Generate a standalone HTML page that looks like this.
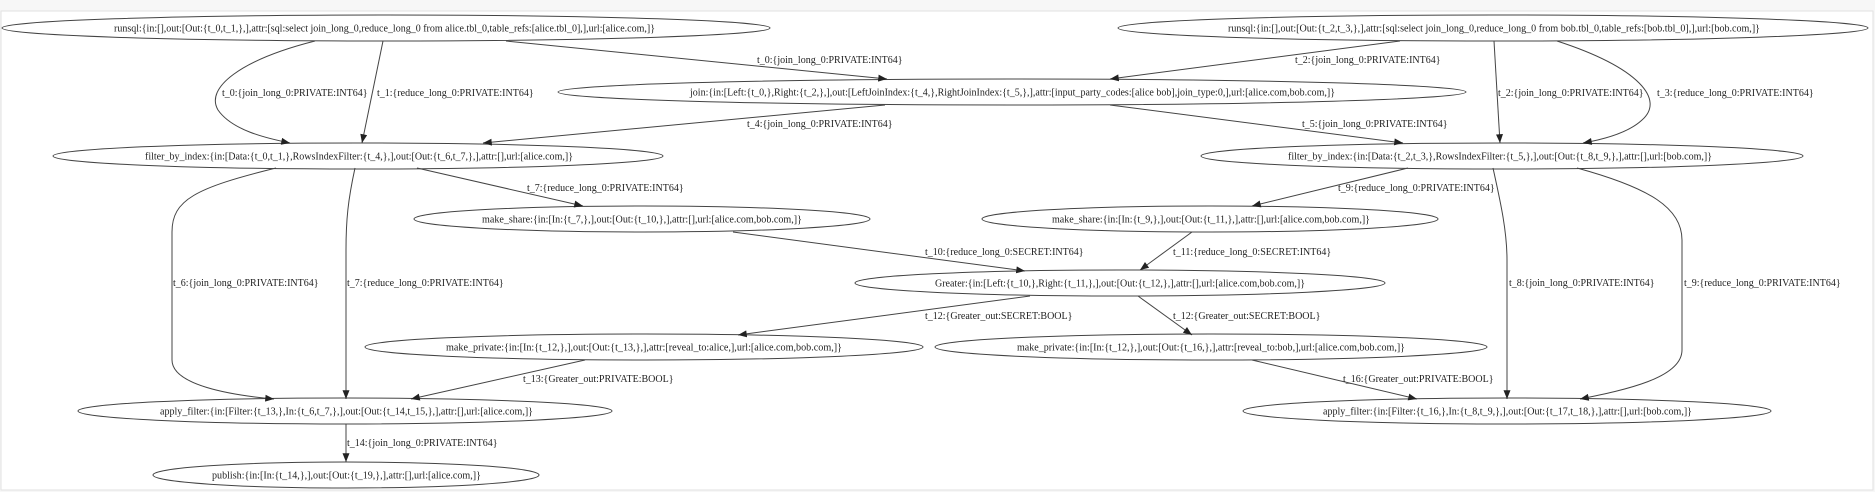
<!DOCTYPE html>
<html><head><meta charset="utf-8"><style>
html,body{margin:0;padding:0;background:#f7f7f7;}
svg{display:block;}
text{font-family:"Liberation Serif",serif;font-size:10px;fill:#222;}
</style></head><body>
<svg width="1875" height="492" viewBox="0 0 1875 492" xmlns="http://www.w3.org/2000/svg">
<defs>
<marker id="a" viewBox="0 0 10 8" refX="10" refY="4" markerWidth="9" markerHeight="7" markerUnits="userSpaceOnUse" orient="auto">
<path d="M0,0 L10,4 L0,8 z" fill="#222"/>
</marker>
</defs>
<rect x="1" y="11" width="1872" height="479" fill="#fff" stroke="#e2e2e2"/>
<g fill="none" stroke="#444" stroke-width="1">
<ellipse cx="386" cy="28" rx="384" ry="13"/>
<ellipse cx="1493" cy="28" rx="375" ry="13"/>
<ellipse cx="1012" cy="92" rx="454" ry="13"/>
<ellipse cx="358" cy="156" rx="305" ry="13"/>
<ellipse cx="1502" cy="156" rx="301" ry="13"/>
<ellipse cx="642" cy="219" rx="228" ry="13"/>
<ellipse cx="1210" cy="219" rx="228" ry="13"/>
<ellipse cx="1120" cy="283" rx="265" ry="13"/>
<ellipse cx="644" cy="347" rx="279" ry="13"/>
<ellipse cx="1211" cy="347" rx="276" ry="13"/>
<ellipse cx="345" cy="411" rx="267" ry="13"/>
<ellipse cx="1507" cy="411" rx="264" ry="13"/>
<ellipse cx="346" cy="475" rx="193" ry="13"/>
</g>
<g fill="none" stroke="#444" stroke-width="1" marker-end="url(#a)">
<path d="M315,41 C240,60 205,88 218,110 C232,130 265,138 290,143"/>
<path d="M383,41 L362,143"/>
<path d="M506,41 L887,79"/>
<path d="M1400,41 L1110,79"/>
<path d="M1494,41 L1500,143"/>
<path d="M1557,41 C1640,68 1665,100 1642,120 C1627,134 1600,140 1583,143"/>
<path d="M885,105 L483,143"/>
<path d="M1110,105 L1403,143"/>
<path d="M417,168 L583,206"/>
<path d="M276,168 C195,188 172,200 172,232 L172,360 C172,385 230,395 274,399"/>
<path d="M355,168 C348,200 346,220 346,250 L346,399"/>
<path d="M1408,168 L1252,206"/>
<path d="M1493,168 C1500,200 1507,230 1507,260 L1507,399"/>
<path d="M1577,168 C1650,188 1682,208 1682,240 L1682,350 C1682,378 1625,390 1580,399"/>
<path d="M733,232 L1025,271"/>
<path d="M1192,232 L1140,270"/>
<path d="M1030,296 L738,335"/>
<path d="M1138,296 L1192,335"/>
<path d="M585,360 L411,399"/>
<path d="M1252,360 L1417,399"/>
<path d="M346,424 L346,462"/>
</g>
<g>
<text x="114" y="31.5" textLength="541" lengthAdjust="spacingAndGlyphs">runsql:{in:[],out:[Out:{t_0,t_1,},],attr:[sql:select join_long_0,reduce_long_0 from alice.tbl_0,table_refs:[alice.tbl_0],],url:[alice.com,]}</text>
<text x="1228" y="31.5" textLength="532" lengthAdjust="spacingAndGlyphs">runsql:{in:[],out:[Out:{t_2,t_3,},],attr:[sql:select join_long_0,reduce_long_0 from bob.tbl_0,table_refs:[bob.tbl_0],],url:[bob.com,]}</text>
<text x="690" y="95.5" textLength="645" lengthAdjust="spacingAndGlyphs">join:{in:[Left:{t_0,},Right:{t_2,},],out:[LeftJoinIndex:{t_4,},RightJoinIndex:{t_5,},],attr:[input_party_codes:[alice bob],join_type:0,],url:[alice.com,bob.com,]}</text>
<text x="145" y="159.5" textLength="428" lengthAdjust="spacingAndGlyphs">filter_by_index:{in:[Data:{t_0,t_1,},RowsIndexFilter:{t_4,},],out:[Out:{t_6,t_7,},],attr:[],url:[alice.com,]}</text>
<text x="1288" y="159.5" textLength="424" lengthAdjust="spacingAndGlyphs">filter_by_index:{in:[Data:{t_2,t_3,},RowsIndexFilter:{t_5,},],out:[Out:{t_8,t_9,},],attr:[],url:[bob.com,]}</text>
<text x="482" y="222.5" textLength="320" lengthAdjust="spacingAndGlyphs">make_share:{in:[In:{t_7,},],out:[Out:{t_10,},],attr:[],url:[alice.com,bob.com,]}</text>
<text x="1052" y="222.5" textLength="318" lengthAdjust="spacingAndGlyphs">make_share:{in:[In:{t_9,},],out:[Out:{t_11,},],attr:[],url:[alice.com,bob.com,]}</text>
<text x="935" y="286.5" textLength="370" lengthAdjust="spacingAndGlyphs">Greater:{in:[Left:{t_10,},Right:{t_11,},],out:[Out:{t_12,},],attr:[],url:[alice.com,bob.com,]}</text>
<text x="446" y="350.5" textLength="396" lengthAdjust="spacingAndGlyphs">make_private:{in:[In:{t_12,},],out:[Out:{t_13,},],attr:[reveal_to:alice,],url:[alice.com,bob.com,]}</text>
<text x="1017" y="350.5" textLength="388" lengthAdjust="spacingAndGlyphs">make_private:{in:[In:{t_12,},],out:[Out:{t_16,},],attr:[reveal_to:bob,],url:[alice.com,bob.com,]}</text>
<text x="160" y="414.5" textLength="373" lengthAdjust="spacingAndGlyphs">apply_filter:{in:[Filter:{t_13,},In:{t_6,t_7,},],out:[Out:{t_14,t_15,},],attr:[],url:[alice.com,]}</text>
<text x="1323" y="414.5" textLength="369" lengthAdjust="spacingAndGlyphs">apply_filter:{in:[Filter:{t_16,},In:{t_8,t_9,},],out:[Out:{t_17,t_18,},],attr:[],url:[bob.com,]}</text>
<text x="212" y="478.5" textLength="269" lengthAdjust="spacingAndGlyphs">publish:{in:[In:{t_14,},],out:[Out:{t_19,},],attr:[],url:[alice.com,]}</text>
</g>
<g>
<text x="222" y="96">t_0:{join_long_0:PRIVATE:INT64}</text>
<text x="377" y="96">t_1:{reduce_long_0:PRIVATE:INT64}</text>
<text x="757" y="63">t_0:{join_long_0:PRIVATE:INT64}</text>
<text x="1295" y="63">t_2:{join_long_0:PRIVATE:INT64}</text>
<text x="1498" y="96">t_2:{join_long_0:PRIVATE:INT64}</text>
<text x="1657" y="96">t_3:{reduce_long_0:PRIVATE:INT64}</text>
<text x="747" y="127">t_4:{join_long_0:PRIVATE:INT64}</text>
<text x="1302" y="127">t_5:{join_long_0:PRIVATE:INT64}</text>
<text x="527" y="191">t_7:{reduce_long_0:PRIVATE:INT64}</text>
<text x="1338" y="191">t_9:{reduce_long_0:PRIVATE:INT64}</text>
<text x="173" y="286">t_6:{join_long_0:PRIVATE:INT64}</text>
<text x="347" y="286">t_7:{reduce_long_0:PRIVATE:INT64}</text>
<text x="1509" y="286">t_8:{join_long_0:PRIVATE:INT64}</text>
<text x="1684" y="286">t_9:{reduce_long_0:PRIVATE:INT64}</text>
<text x="925" y="255">t_10:{reduce_long_0:SECRET:INT64}</text>
<text x="1173" y="255">t_11:{reduce_long_0:SECRET:INT64}</text>
<text x="925" y="319">t_12:{Greater_out:SECRET:BOOL}</text>
<text x="1173" y="319">t_12:{Greater_out:SECRET:BOOL}</text>
<text x="523" y="382">t_13:{Greater_out:PRIVATE:BOOL}</text>
<text x="1343" y="382">t_16:{Greater_out:PRIVATE:BOOL}</text>
<text x="347" y="446">t_14:{join_long_0:PRIVATE:INT64}</text>
</g>
</svg>
</body></html>
